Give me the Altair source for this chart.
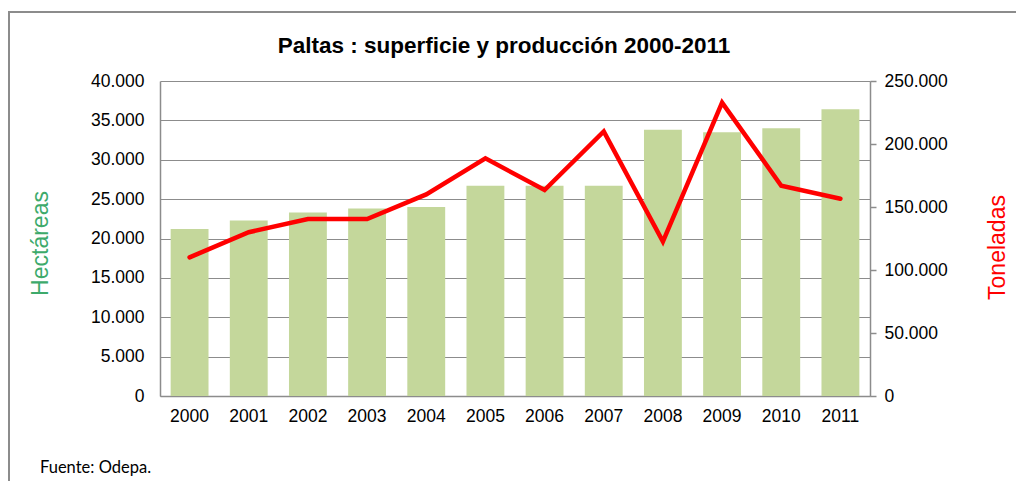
import altair as alt
import pandas as pd

years = ["2000", "2001", "2002", "2003", "2004", "2005",
         "2006", "2007", "2008", "2009", "2010", "2011"]
hectareas = [21200, 22300, 23300, 23800, 24000, 26700,
             26700, 26700, 33800, 33500, 34000, 36400]
toneladas = [110000, 130000, 140500, 140500, 160000, 188600,
             163500, 210000, 122500, 232800, 166900, 156600]

title_text = "Paltas : superficie y producción 2000-2011"
left_title = "Hectáreas"
right_title = "Toneladas"
footer_text = "Fuente: Odepa."

df = pd.DataFrame({"year": years, "hectareas": hectareas, "toneladas": toneladas})

FONT = "Liberation Sans"
GRAY = "#8c8c8c"
LABEL_SIZE = 17.5
fmt = "replace(format(datum.value, ','), regexp(',', 'g'), '.')"

base = alt.Chart(df)

x_enc = alt.X(
    "year:O",
    scale=alt.Scale(paddingInner=0.36, paddingOuter=0.18),
    axis=alt.Axis(title=None, labelAngle=0, labelFontSize=LABEL_SIZE, labelFont=FONT,
                  labelColor="black", domainColor=GRAY, domainWidth=1.5,
                  ticks=False, labelPadding=11, grid=False),
)

bars = base.mark_bar(color="#C4D79B").encode(
    x=x_enc,
    y=alt.Y(
        "hectareas:Q",
        scale=alt.Scale(domain=[0, 40000], nice=False),
        axis=alt.Axis(
            values=list(range(0, 40001, 5000)), labelExpr=fmt,
            labelFontSize=LABEL_SIZE, labelFont=FONT, labelColor="black",
            labelPadding=16, ticks=False, domainColor=GRAY, domainWidth=1.5,
            gridColor=GRAY, gridWidth=1, gridOpacity=1,
            title=left_title, titleColor="#3DAA6B", titleFontSize=23,
            titleFont=FONT, titleFontWeight="normal", titleAngle=270,
            titleX=-120, titleY=162, titleAlign="center", titleBaseline="middle",
        ),
    ),
)

line = base.mark_line(color="#FF0000", strokeWidth=4.5, strokeCap="round",
                      strokeJoin="miter").encode(
    x=alt.X("year:O"),
    y=alt.Y(
        "toneladas:Q",
        scale=alt.Scale(domain=[0, 250000], nice=False),
        axis=alt.Axis(
            orient="right", values=list(range(0, 250001, 50000)), labelExpr=fmt,
            labelFontSize=LABEL_SIZE, labelFont=FONT, labelColor="black",
            labelPadding=8, tickSize=6, tickColor=GRAY, tickWidth=1.5,
            domainColor=GRAY, domainWidth=1.5, grid=False,
            title=right_title, titleColor="#FF0000", titleFontSize=23,
            titleFont=FONT, titleFontWeight="normal", titleAngle=270,
            titleX=127, titleY=166, titleAlign="center", titleBaseline="middle",
        ),
    ),
)

one = alt.Chart(pd.DataFrame({"k": [0]}))
border_left = one.mark_rule(color=GRAY, strokeWidth=2).encode(
    x=alt.value(-151), y=alt.value(-69), y2=alt.value(400))
border_top = one.mark_rule(color=GRAY, strokeWidth=2).encode(
    x=alt.value(-152), x2=alt.value(860), y=alt.value(-69))
title = one.mark_text(text=title_text, font=FONT, fontSize=22.5, fontWeight="bold",
                      align="center", baseline="alphabetic", color="black").encode(
    x=alt.value(344), y=alt.value(-28))
footer = one.mark_text(text=footer_text, font="Lato", fontSize=16.5, align="left",
                       baseline="alphabetic", color="black").encode(
    x=alt.value(-120), y=alt.value(392))

chart = (
    alt.layer(bars, line, border_left, border_top, title, footer)
    .resolve_scale(y="independent")
    .properties(
        width=710, height=315,
        padding={"left": 152, "top": 73, "right": 146, "bottom": 85},
        autosize=alt.AutoSizeParams(type="none"),
    )
    .configure_view(strokeWidth=0)
)

chart.save("out.html", embed_options={"renderer": "svg", "actions": False})
